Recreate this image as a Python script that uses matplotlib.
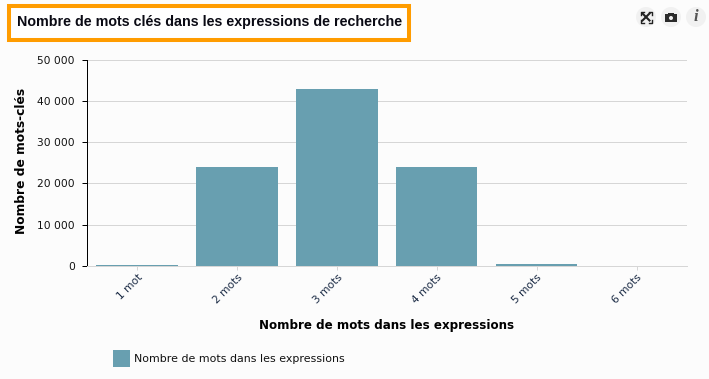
import matplotlib
matplotlib.use("Agg")
import matplotlib.pyplot as plt
from matplotlib.lines import Line2D
from matplotlib.patches import Rectangle, Ellipse

categories = ["1 mot", "2 mots", "3 mots", "4 mots", "5 mots", "6 mots"]
values = [300, 24000, 42800, 24000, 550, 5]
yticks = [0, 10000, 20000, 30000, 40000, 50000]
ylabels = ["0", "10 000", "20 000", "30 000", "40 000", "50 000"]
title = "Nombre de mots clés dans les expressions de recherche"
xlabel = "Nombre de mots dans les expressions"
ylabel = "Nombre de mots-clés"
series = "Nombre de mots dans les expressions"

W, H = 709, 379
BG = "#fcfcfc"
BAR = "#689fb0"
GRID = "#d6d6d6"
PX = 0.72
fig = plt.figure(figsize=(W / 100, H / 100), dpi=100, facecolor=BG)
ax = fig.add_axes([87.1 / W, 1 - 266 / H, 599.6 / W, 206.5 / H], facecolor=BG)

ax.bar(range(len(values)), values, width=0.812, color=BAR, zorder=3)
ax.set_xlim(-0.5, 5.5)
ax.set_ylim(0, 50000)
ax.set_yticks(yticks)
ax.set_yticklabels(ylabels, fontsize=7.7, color="#111111")
ax.set_xticks(range(len(categories)))
ax.set_xticklabels(categories, fontsize=7.7, rotation=45, ha="right",
                   rotation_mode="anchor", color="#1a2a44")
ax.grid(axis="y", color=GRID, lw=PX, zorder=0)
for s in ["top", "right"]:
    ax.spines[s].set_visible(False)
ax.spines["left"].set_color("black")
ax.spines["left"].set_linewidth(PX)
ax.spines["bottom"].set_color(GRID)
ax.spines["bottom"].set_linewidth(PX)
ax.tick_params(axis="y", length=3.8, width=PX, color="black", pad=5)
ax.tick_params(axis="x", length=3, width=PX, color=GRID, pad=1.5)


def px(x, y):
    return x / W, 1 - y / H


def rect(x0, y0, x1, y1, **kw):
    fig.add_artist(Rectangle(px(x0, y1), (x1 - x0) / W, (y1 - y0) / H,
                             transform=fig.transFigure, **kw))


def line(xs, ys, **kw):
    fig.add_artist(Line2D([x / W for x in xs], [1 - y / H for y in ys],
                          transform=fig.transFigure, **kw))


fig.text(*px(387, 326), xlabel, fontsize=8.6, fontweight="bold", ha="center", va="center", color="black")
fig.text(*px(21.5, 161), ylabel, fontsize=8.8, fontweight="bold", rotation=90, ha="center", va="center", color="black")

# Title frame
rect(9, 6, 408.7, 40, facecolor="white", edgecolor="#ff9c00", lw=2.9)
fig.text(*px(17, 22), title, fontsize=10.25, fontweight="bold", family="Liberation Sans",
         ha="left", va="center", color="#0a0a14")

# Legend
rect(113, 350, 130, 367, facecolor=BAR, edgecolor="none")
fig.text(*px(134, 359), series, fontsize=7.95, ha="left", va="center", color="#111111")

# Toolbar icons
for cx in (646, 671, 696):
    fig.add_artist(Ellipse(px(cx, 17), 20 / W, 20 / H, transform=fig.transFigure,
                           facecolor="#f1f1f1", edgecolor="none"))
# full-screen glyph
dark = "#222222"
x0, x1, y0, y1 = 640.5, 651.5, 11.5, 22.5
for cx, cy, dx, dy in ((x0, y0, 3, 3), (x1, y0, -3, 3), (x0, y1, 3, -3), (x1, y1, -3, -3)):
    line([cx + dx, cx, cx], [cy, cy, cy + dy], color=dark, lw=1)
line([642.5, 649.5], [13.5, 20.5], color=dark, lw=1.5)
line([642.5, 649.5], [20.5, 13.5], color=dark, lw=1.5)
# camera glyph
rect(665, 14, 677, 22, facecolor="#2a2a2a", edgecolor="none")
rect(668, 12.5, 674, 14.5, facecolor="#2a2a2a", edgecolor="none")
fig.add_artist(Ellipse(px(671, 18), 4 / W, 4 / H, transform=fig.transFigure,
                       facecolor="#f1f1f1", edgecolor="none"))
# info glyph
fig.text(*px(696, 17), "i", fontsize=12, style="italic", fontweight="bold", family="Liberation Serif",
         ha="center", va="center", color="#555555")

fig.savefig("out.png", dpi=100, facecolor=BG)
